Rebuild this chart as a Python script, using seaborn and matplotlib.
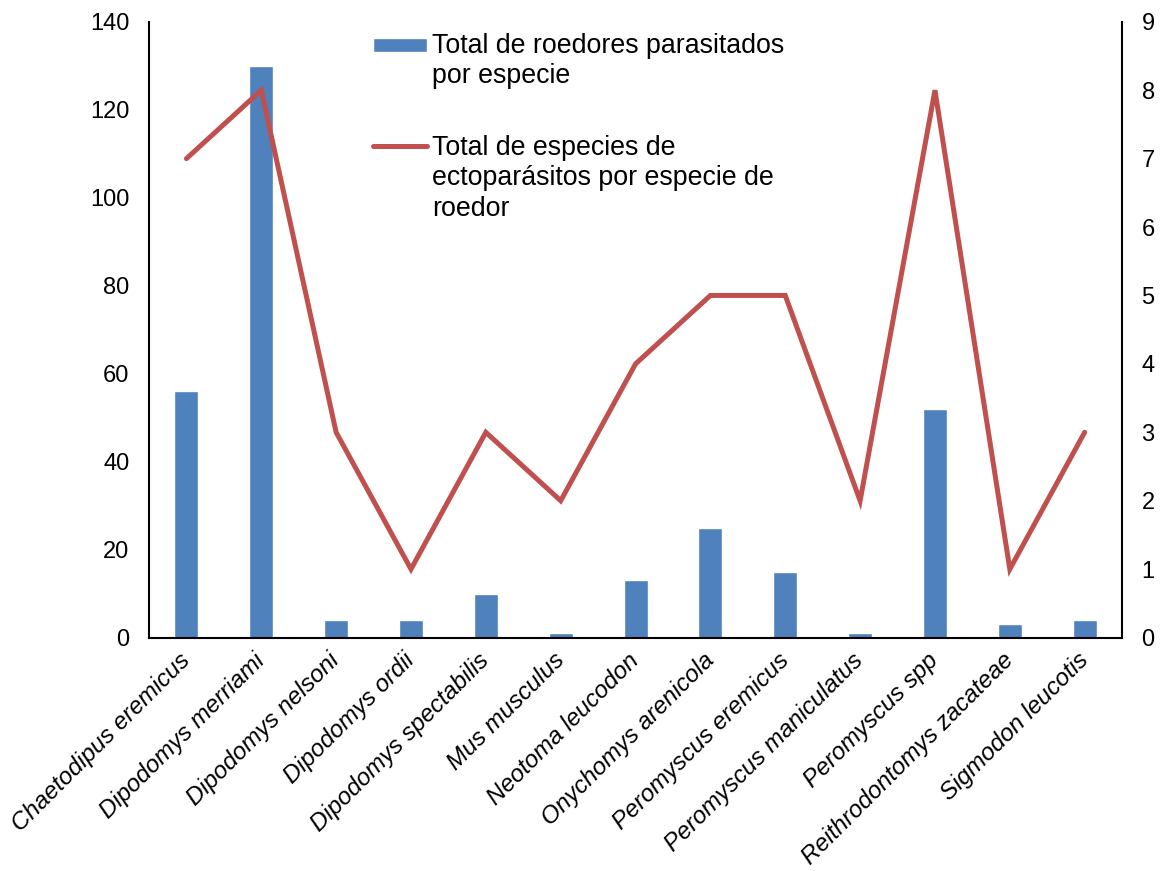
import matplotlib
matplotlib.use("Agg")
import matplotlib.pyplot as plt
from matplotlib.legend_handler import HandlerPatch, HandlerLine2D
from matplotlib.patches import Rectangle
import numpy as np
import seaborn as sns
import pandas as pd

especies = [
    "Chaetodipus eremicus", "Dipodomys merriami", "Dipodomys nelsoni",
    "Dipodomys ordii", "Dipodomys spectabilis", "Mus musculus",
    "Neotoma leucodon", "Onychomys arenicola", "Peromyscus eremicus",
    "Peromyscus maniculatus", "Peromyscus spp", "Reithrodontomys zacateae",
    "Sigmodon leucotis",
]
roedores_parasitados = [56, 130, 4, 4, 10, 1, 13, 25, 15, 1, 52, 3, 4]
especies_ectoparasitos = [7, 8, 3, 1, 3, 2, 4, 5, 5, 2, 8, 1, 3]

etiqueta_barras = "Total de roedores parasitados\npor especie"
etiqueta_linea = "Total de especies de\nectoparásitos por especie de\nroedor"

df = pd.DataFrame({
    "especie": especies,
    "roedores": roedores_parasitados,
    "ectoparasitos": especies_ectoparasitos,
    "pos": range(len(especies)),
})

sns.set_theme(style="white")
plt.rcParams["font.family"] = ["Liberation Sans", "DejaVu Sans"]

fig, ax = plt.subplots(figsize=(11.64, 8.71), dpi=100)
fig.subplots_adjust(left=0.128, right=0.964, top=0.975, bottom=0.268)

sns.barplot(data=df, x="especie", y="roedores", color="#4F81BD",
            width=0.32, saturation=1, ax=ax)
ax.set_ylim(0, 140)
ax.set_yticks(range(0, 141, 20))
ax.set_xlim(-0.5, len(especies) - 0.5)

ax2 = ax.twinx()
sns.lineplot(data=df, x="pos", y="ectoparasitos", color="#C0504D",
             linewidth=3.6, ax=ax2, legend=False)
linea = ax2.get_lines()[0]
linea.set_solid_capstyle("round")
linea.set_solid_joinstyle("miter")
ax2.set_ylim(0, 9)
ax2.set_yticks(range(0, 10))
ax2.set_xlim(-0.5, len(especies) - 0.5)

for a in (ax, ax2):
    a.set_xlabel("")
    a.set_ylabel("")
    for s in a.spines.values():
        s.set_visible(False)
    a.tick_params(axis="y", labelsize=17, length=0, colors="black")

ax.spines["left"].set_visible(True)
ax.spines["bottom"].set_visible(True)
ax2.spines["right"].set_visible(True)
for name in ("left", "bottom"):
    ax.spines[name].set_color("black")
    ax.spines[name].set_linewidth(1.5)
ax2.spines["right"].set_color("black")
ax2.spines["right"].set_linewidth(1.5)

ax.tick_params(axis="x", length=0, pad=14)
ax.set_xticks(range(len(especies)))
ax.set_xticklabels(especies, rotation=45, ha="right", va="center",
                   rotation_mode="anchor", fontsize=17.5, fontstyle="italic",
                   color="black")
ax.tick_params(axis="y", pad=14)
ax2.tick_params(axis="y", pad=14)


def barra_leyenda(legend, orig_handle, xdescent, ydescent, width, height, fontsize):
    # short flat swatch, raised to sit beside the first text line
    h = 10
    dy = 11.9
    return Rectangle((-xdescent, -ydescent + height / 2 - h / 2 + dy), width, h)


class LineaArriba(HandlerLine2D):
    """Line handle raised so it sits beside the first line of its label."""

    def __init__(self, dy, **kw):
        super().__init__(**kw)
        self.dy = dy

    def create_artists(self, *args, **kw):
        arts = super().create_artists(*args, **kw)
        for a in arts:
            a.set_ydata(np.asarray(a.get_ydata()) + self.dy)
        return arts


FS_LEG = 19.3
barra = ax.patches[0]
leg = ax2.legend(
    [barra, linea], [etiqueta_barras, etiqueta_linea], loc="upper left",
    bbox_to_anchor=(0.2302, 0.982), frameon=False, fontsize=FS_LEG,
    handlelength=2.0, handletextpad=0.2, labelspacing=1.7,
    borderpad=0, borderaxespad=0,
    handler_map={
        barra: HandlerPatch(patch_func=barra_leyenda),
        linea: LineaArriba(dy=23.8),
    },
)
for t in leg.get_texts():
    t.set_linespacing(1.22)
    t.set_color("black")

fig.savefig("out.png", dpi=100)
